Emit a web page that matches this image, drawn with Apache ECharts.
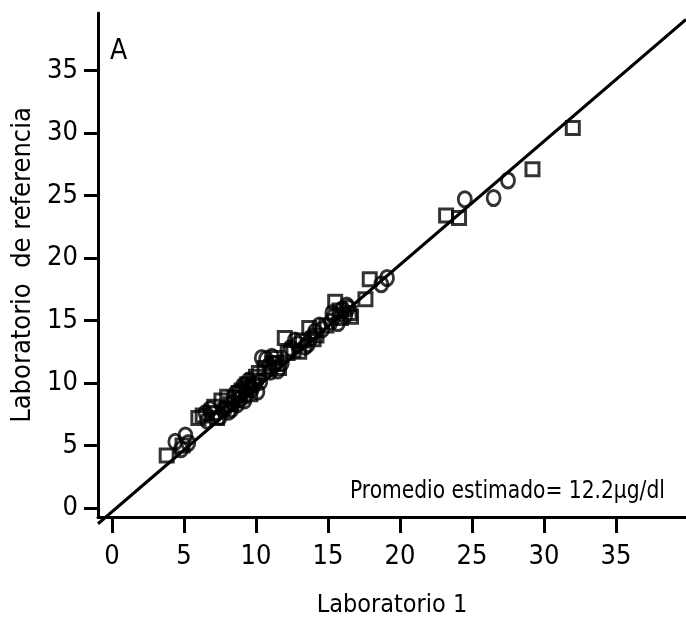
<!DOCTYPE html>
<html>
<head>
<meta charset="utf-8">
<script src="https://cdn.jsdelivr.net/npm/echarts@6/dist/echarts.min.js"></script>
<style>
html,body{margin:0;padding:0;background:#fff;}
#chart{width:686px;height:627px;}
</style>
</head>
<body>
<div id="chart"></div>
<script>
// ---- data ----
const xTicks = [0, 5, 10, 15, 20, 25, 30, 35];
const yTicks = [0, 5, 10, 15, 20, 25, 30, 35];
const squareX = [3.8, 4.9, 6.3, 7.0, 7.3, 7.6, 8.2, 8.5, 8.8, 9.3, 9.6, 9.8, 10.2, 11.2, 11.6, 12.0, 12.6, 13.2, 13.7, 14.2, 15.5, 15.9, 16.5, 17.6, 17.9, 23.2, 24.1, 29.2, 32.0,
  6.0, 7.1, 8.0, 9.0, 9.4, 10.0, 10.6, 11.4, 12.2, 13.0, 14.0, 14.9, 15.8, 16.6];
const squareY = [4.2, 5.0, 7.4, 7.6, 7.2, 8.6, 8.3, 8.8, 9.2, 9.6, 9.1, 10.2, 10.8, 11.6, 11.2, 13.6, 12.6, 13.4, 14.4, 13.8, 16.5, 15.2, 15.6, 16.7, 18.3, 23.4, 23.2, 27.1, 30.4,
  7.2, 8.1, 8.9, 9.4, 9.9, 10.5, 11.2, 12.0, 12.4, 12.5, 13.5, 14.6, 15.8, 15.3];
const circleX = [4.4, 5.1, 4.8, 5.3, 6.5, 6.8, 7.5, 7.9, 8.1, 8.4, 8.6, 8.9, 9.1, 9.3, 9.5, 9.7, 9.9, 10.1, 10.4, 10.7, 10.9, 11.1, 11.3, 11.5, 12.4, 12.9, 13.4, 13.8, 14.1, 14.6, 15.2, 15.4, 15.7, 16.0, 16.2, 16.4, 18.7, 19.1, 24.5, 26.5, 27.5,
  6.6, 7.7, 8.3, 8.7, 9.2, 9.6, 10.3, 11.0, 11.8, 12.7, 13.6, 14.4, 15.3, 16.3];
const circleY = [5.3, 5.8, 4.7, 5.2, 7.6, 7.9, 7.3, 8.0, 7.7, 8.4, 9.2, 8.7, 9.8, 9.0, 10.2, 9.5, 9.9, 9.3, 12.0, 11.9, 11.4, 12.1, 11.5, 11.0, 12.8, 13.1, 12.9, 13.6, 14.1, 14.3, 14.9, 15.3, 14.8, 15.9, 15.4, 16.0, 17.9, 18.4, 24.7, 24.8, 26.2,
  7.0, 7.9, 7.9, 8.3, 8.6, 9.7, 10.1, 10.9, 11.6, 13.4, 13.1, 14.6, 15.6, 16.2];
const fitX = [-0.97, 39.86];
const fitY = [-1.26, 39.08];
const xName = 'Laboratorio 1';
const yName = 'Laboratorio  de referencia';
const panelLabel = 'A';
const noteText = 'Promedio estimado= 12.2\u00b5g/dl';

const FONT = "'Liberation Sans Narrow', 'DejaVu Sans Condensed', 'Arial Narrow', sans-serif";
const zip = (a, b) => a.map((v, i) => [v, b[i]]);

const chart = echarts.init(document.getElementById('chart'), null, {renderer: 'canvas'});
chart.setOption({
  animation: false,
  backgroundColor: '#fff',
  grid: {left: 98, right: 0, top: 13, bottom: 110, containLabel: false},
  xAxis: {
    type: 'value', min: -0.97, max: 39.86,
    name: xName, nameLocation: 'middle', nameGap: 76,
    nameTextStyle: {fontFamily: FONT, fontSize: 25, color: '#000'},
    axisLine: {show: true, onZero: false, lineStyle: {color: '#000', width: 3}},
    axisTick: {show: true, customValues: xTicks, length: 16, lineStyle: {color: '#000', width: 3}},
    axisLabel: {customValues: xTicks, fontFamily: FONT, fontSize: 27, color: '#000', margin: 26},
    splitLine: {show: false}
  },
  yAxis: {
    type: 'value', min: -0.72, max: 39.6,
    name: yName, nameLocation: 'middle', nameGap: 52,
    nameTextStyle: {fontFamily: FONT, fontSize: 27, color: '#000'},
    axisLine: {show: true, onZero: false, lineStyle: {color: '#000', width: 3}},
    axisTick: {show: true, customValues: yTicks, length: 14, lineStyle: {color: '#000', width: 3}},
    axisLabel: {customValues: yTicks, fontFamily: FONT, fontSize: 27, color: '#000', margin: 20},
    splitLine: {show: false}
  },
  graphic: [
    {type: 'text', left: 110, top: 38, style: {text: panelLabel, font: '28px ' + FONT, fill: '#000'}},
    {type: 'text', x: 350, y: 479, scaleX: 0.9, style: {text: noteText, font: '25px ' + FONT, fill: '#000'}}
  ],
  series: [
    {
      type: 'line', data: zip(fitX, fitY), symbol: 'none', clip: false,
      lineStyle: {color: '#000', width: 3}, z: 1
    },
    {
      type: 'scatter', data: zip(squareX, squareY), symbol: 'rect', symbolSize: 13,
      itemStyle: {color: 'rgba(0,0,0,0)', borderColor: '#000', borderWidth: 3}, z: 2
    },
    {
      type: 'scatter', data: zip(circleX, circleY), symbol: 'circle', symbolSize: [13, 15],
      itemStyle: {color: 'rgba(0,0,0,0)', borderColor: '#000', borderWidth: 3}, z: 2
    }
  ]
});
</script>
</body>
</html>
